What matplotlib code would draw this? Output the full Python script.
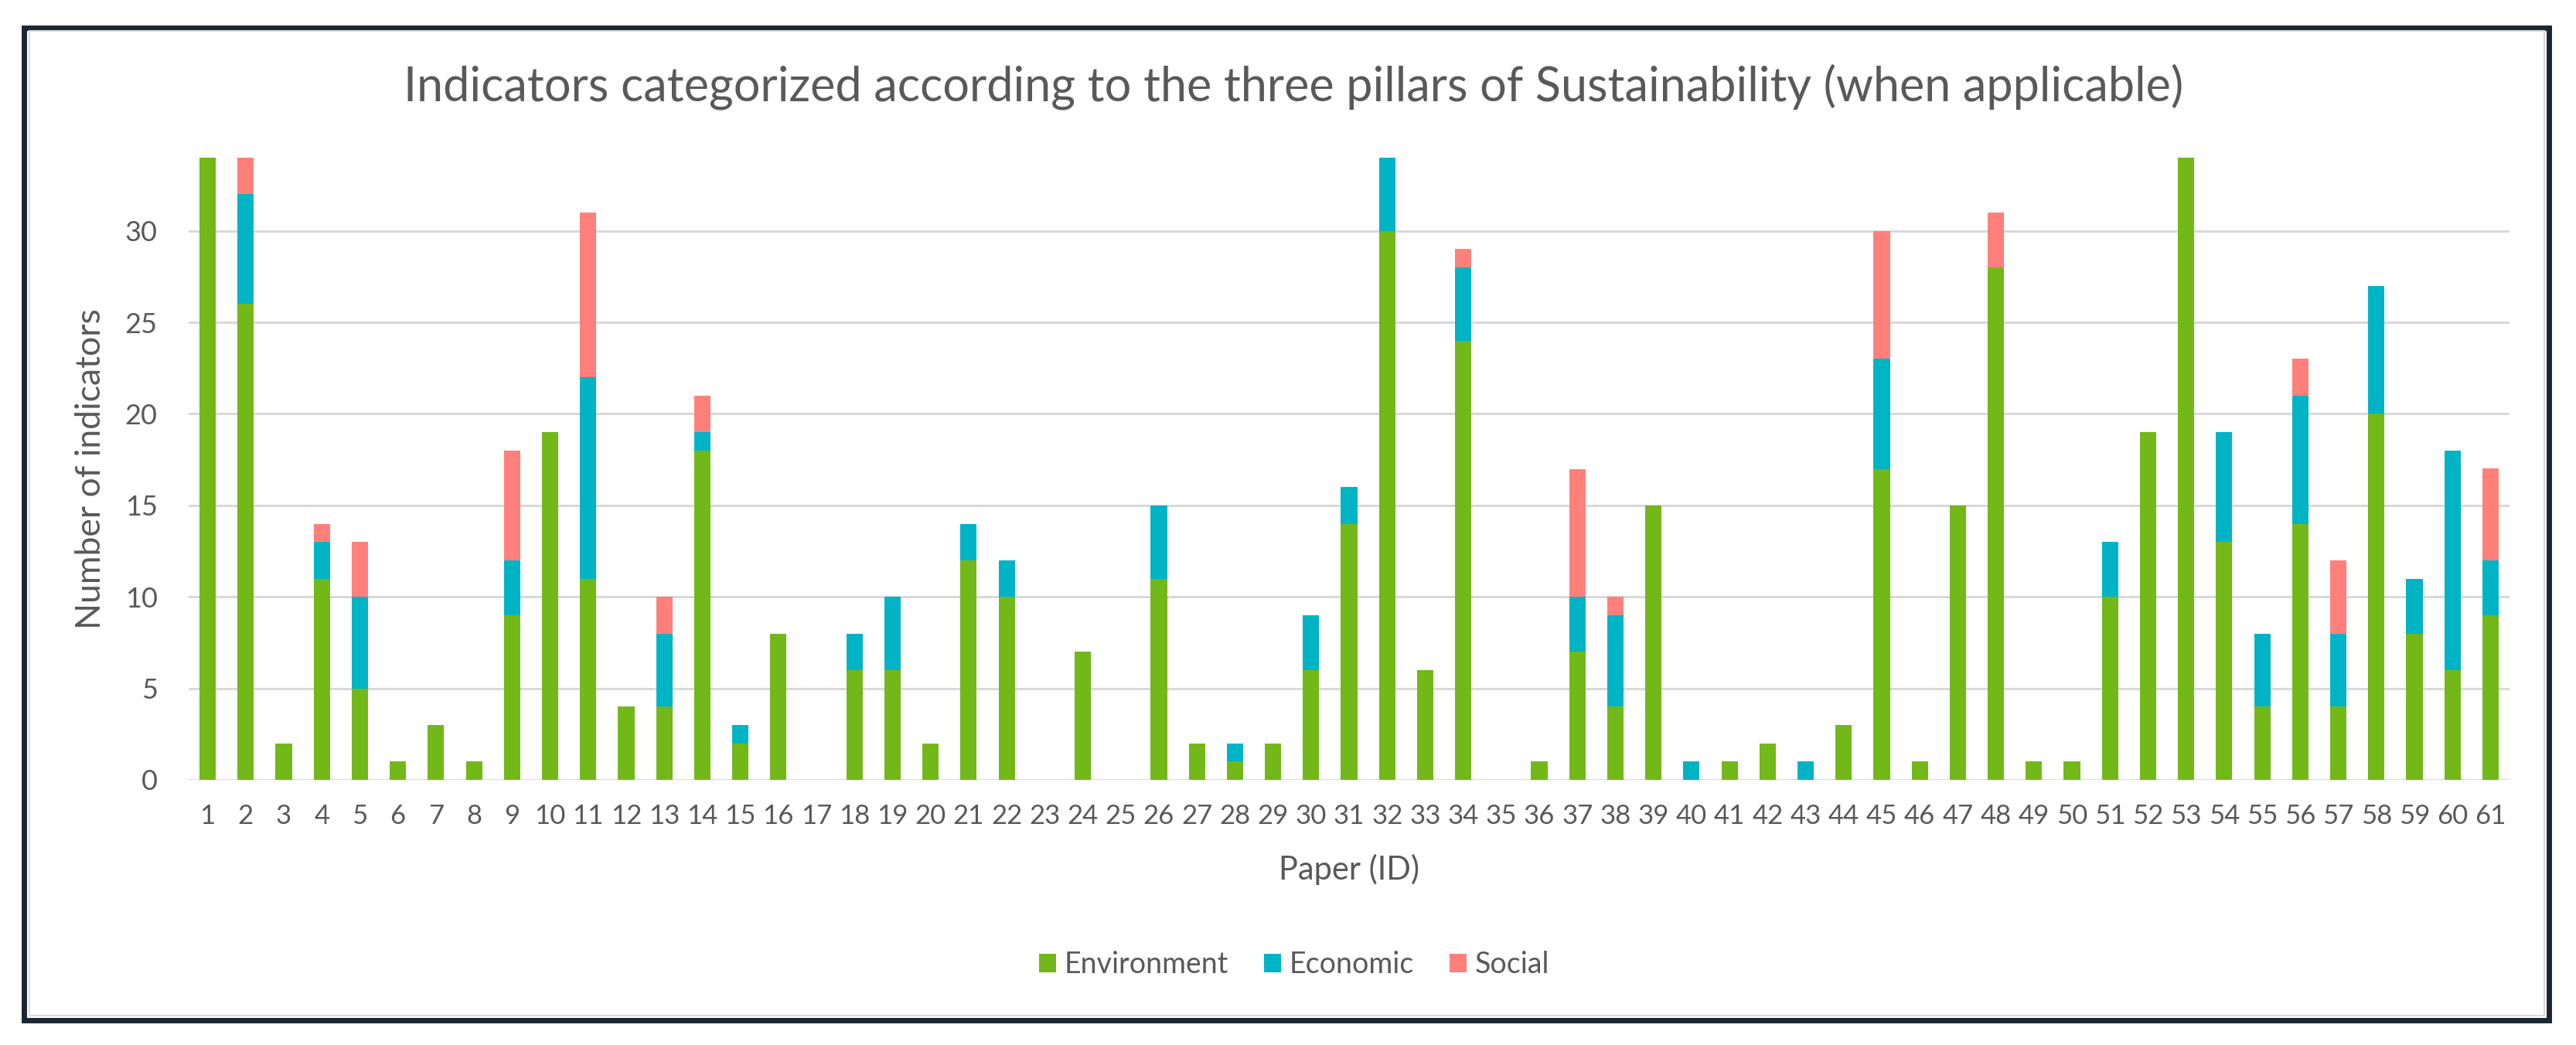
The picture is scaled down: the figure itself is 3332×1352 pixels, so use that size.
import matplotlib.pyplot as plt
from matplotlib.patches import Rectangle

plt.rcParams["font.family"] = ["Lato", "DejaVu Sans"]

papers = list(range(1, 62))
environment = [34, 26, 2, 11, 5, 1, 3, 1, 9, 19, 11, 4, 4, 18, 2, 8, 0, 6, 6, 2,
               12, 10, 0, 7, 0, 11, 2, 1, 2, 6, 14, 30, 6, 24, 0, 1, 7, 4, 15, 0,
               1, 2, 0, 3, 17, 1, 15, 28, 1, 1, 10, 19, 34, 13, 4, 14, 4, 20, 8, 6, 9]
economic = [0, 6, 0, 2, 5, 0, 0, 0, 3, 0, 11, 0, 4, 1, 1, 0, 0, 2, 4, 0,
            2, 2, 0, 0, 0, 4, 0, 1, 0, 3, 2, 4, 0, 4, 0, 0, 3, 5, 0, 1,
            0, 0, 1, 0, 6, 0, 0, 0, 0, 0, 3, 0, 0, 6, 4, 7, 4, 7, 3, 12, 3]
social = [0, 2, 0, 1, 3, 0, 0, 0, 6, 0, 9, 0, 2, 2, 0, 0, 0, 0, 0, 0,
          0, 0, 0, 0, 0, 0, 0, 0, 0, 0, 0, 0, 0, 1, 0, 0, 7, 1, 0, 0,
          0, 0, 0, 0, 7, 0, 0, 3, 0, 0, 0, 0, 0, 0, 0, 2, 4, 0, 0, 0, 5]

GREEN = "#72b819"
TEAL = "#00b4c5"
SALMON = "#ff807b"
TEXT = "#595959"
GRID = "#d9d9d9"

W, H = 3332, 1352
fig = plt.figure(figsize=(W / 100, H / 100), dpi=100)
ax = fig.add_axes([244 / W, 1 - 1009 / H, (3246 - 244) / W, (1009 - 204) / H])

bottom2 = [e + c for e, c in zip(environment, economic)]
bw = 0.43
ax.bar(papers, environment, width=bw, color=GREEN, label="Environment", zorder=3)
ax.bar(papers, economic, width=bw, bottom=environment, color=TEAL, label="Economic", zorder=3)
ax.bar(papers, social, width=bw, bottom=bottom2, color=SALMON, label="Social", zorder=3)

ax.set_xlim(0.5, 61.5)
ax.set_ylim(0, 34)
ax.set_yticks(range(0, 31, 5))
ax.set_xticks(papers)
ax.set_xticklabels([str(p) for p in papers])
ax.grid(axis="y", color=GRID, linewidth=2.2)
ax.set_axisbelow(True)
for s in ax.spines.values():
    s.set_visible(False)
ax.tick_params(axis="y", length=0, pad=29, labelsize=26, labelcolor=TEXT)
ax.tick_params(axis="x", length=0, pad=22, labelsize=25, labelcolor=TEXT)

ax.set_ylabel("Number of indicators", fontsize=32, color=TEXT, labelpad=17)
ax.set_xlabel("Paper (ID)", fontsize=30, color=TEXT, labelpad=24)

fig.text(0.502, 1 - 130 / H, "Indicators categorized according to the three pillars of "
         "Sustainability (when applicable)", ha="center", va="baseline",
         fontsize=44, color=TEXT)

leg = fig.legend(loc="center", bbox_to_anchor=(1674 / W, 1 - 1248 / H), ncol=3,
                 frameon=False, fontsize=27, handlelength=0.59, handleheight=0.59,
                 handletextpad=0.29, columnspacing=1.23, labelcolor=TEXT)

# outer frame
fig.patches.append(Rectangle((31.5 / W, 1 - 1319.5 / H), (3297 - 31.5) / W,
                             (1319.5 - 36) / H, transform=fig.transFigure,
                             fill=False, edgecolor="#1b2631", linewidth=5))
fig.patches.append(Rectangle((37.5 / W, 1 - 1314 / H), (3291 - 37.5) / W,
                             (1314 - 40) / H, transform=fig.transFigure,
                             fill=False, edgecolor=GRID, linewidth=1.5))

fig.savefig("out.png", dpi=100)
